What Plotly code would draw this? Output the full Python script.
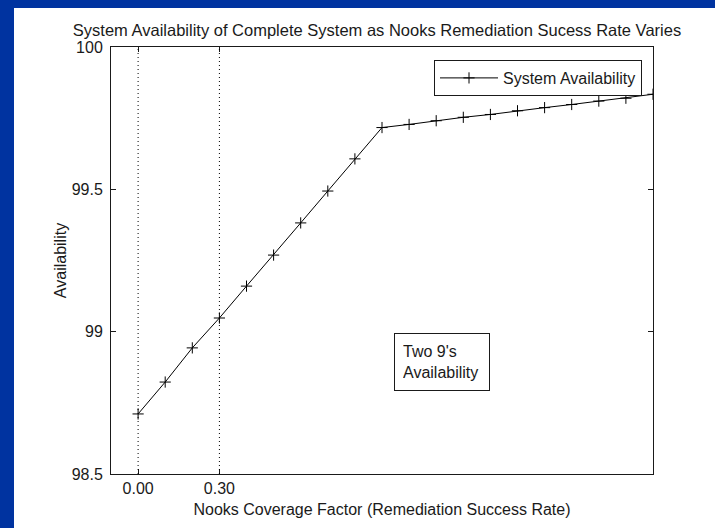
import plotly.graph_objects as go

# Data
coverage = [0.0, 0.1, 0.2, 0.3, 0.4, 0.5, 0.6, 0.7, 0.8, 0.9,
            1.0, 1.1, 1.2, 1.3, 1.4, 1.5, 1.6, 1.7, 1.8, 1.9]
availability = [98.711, 98.823, 98.943, 99.048, 99.160, 99.269, 99.382, 99.494, 99.607, 99.717,
                99.728, 99.741, 99.753, 99.763, 99.776, 99.787, 99.798, 99.810, 99.820, 99.834]
y_ticks = [98.5, 99, 99.5, 100]
y_ticktext = ["98.5", "99", "99.5", "100"]
x_ticks = [0.0, 0.3]
x_ticktext = ["0.00", "0.30"]
ref_lines = [0.0, 0.3]

FONT = "Liberation Sans, Arial, sans-serif"
INK = "#1a1a1a"
FS = 16

fig = go.Figure()
fig.add_trace(go.Scatter(
    x=coverage, y=availability, mode="lines+markers", name="System Availability",
    line=dict(color="black", width=1),
    marker=dict(symbol="cross-thin", size=8, line=dict(color="black", width=1)),
))

for xv in ref_lines:
    fig.add_shape(type="line", xref="x", yref="paper", x0=xv, x1=xv, y0=0, y1=1,
                  line=dict(color="black", width=1, dash="1px,3px"))

# white slide area behind the chart
fig.add_shape(type="rect", xref="paper", yref="paper",
              x0=(14 - 111) / 542, x1=(720 - 111) / 542,
              y0=(474 - 535) / 427, y1=(474 - 8) / 427,
              fillcolor="white", line=dict(width=0), layer="below")

fig.add_annotation(
    text="Two 9's<br>Availability", xref="paper", yref="paper",
    x=(394 - 111) / 542, y=(474 - 333) / 427, xanchor="left", yanchor="top",
    showarrow=False, align="left", valign="middle",
    width=78, height=40, borderpad=8, bordercolor=INK, borderwidth=1,
    bgcolor="white", font=dict(family=FONT, size=FS, color=INK),
)

fig.update_layout(
    width=715, height=528, autosize=False,
    margin=dict(l=111, r=62, t=47, b=54),
    paper_bgcolor="#0033a0", plot_bgcolor="white",
    font=dict(family=FONT, size=FS, color=INK),
    title=dict(text="System Availability of Complete System as Nooks Remediation Sucess Rate Varies",
               xref="container", yref="container", x=377 / 715, y=1 - 30 / 528,
               xanchor="center", yanchor="middle", font=dict(family=FONT, size=16.5, color=INK)),
    showlegend=True,
    legend=dict(x=(642 - 111) / 542, y=(474 - 60) / 427, xanchor="right", yanchor="top",
                bgcolor="white", bordercolor=INK, borderwidth=1,
                font=dict(family=FONT, size=FS, color=INK), itemwidth=58,
                tracegroupgap=0),
    xaxis=dict(range=[-0.1, 1.9], tickvals=x_ticks, ticktext=x_ticktext,
               ticks="inside", ticklen=5, tickcolor=INK, showgrid=False, zeroline=False,
               showline=True, linecolor=INK, linewidth=1, mirror="ticks",
               title=dict(text="Nooks Coverage Factor (Remediation Success Rate)", standoff=7,
                          font=dict(family=FONT, size=FS, color=INK)),
               tickfont=dict(family=FONT, size=FS, color=INK)),
    yaxis=dict(range=[98.5, 100], tickvals=y_ticks, ticktext=y_ticktext,
               ticks="inside", ticklen=5, tickcolor=INK, showgrid=False, zeroline=False,
               showline=True, linecolor=INK, linewidth=1, mirror="ticks",
               ticklabelstandoff=4,
               title=dict(text="Availability", standoff=1,
                          font=dict(family=FONT, size=FS, color=INK)),
               tickfont=dict(family=FONT, size=FS, color=INK)),
)

fig.write_html("out.html", config={"displayModeBar": False},
               post_script="document.body.style.margin='0';document.body.style.overflow='hidden';")
